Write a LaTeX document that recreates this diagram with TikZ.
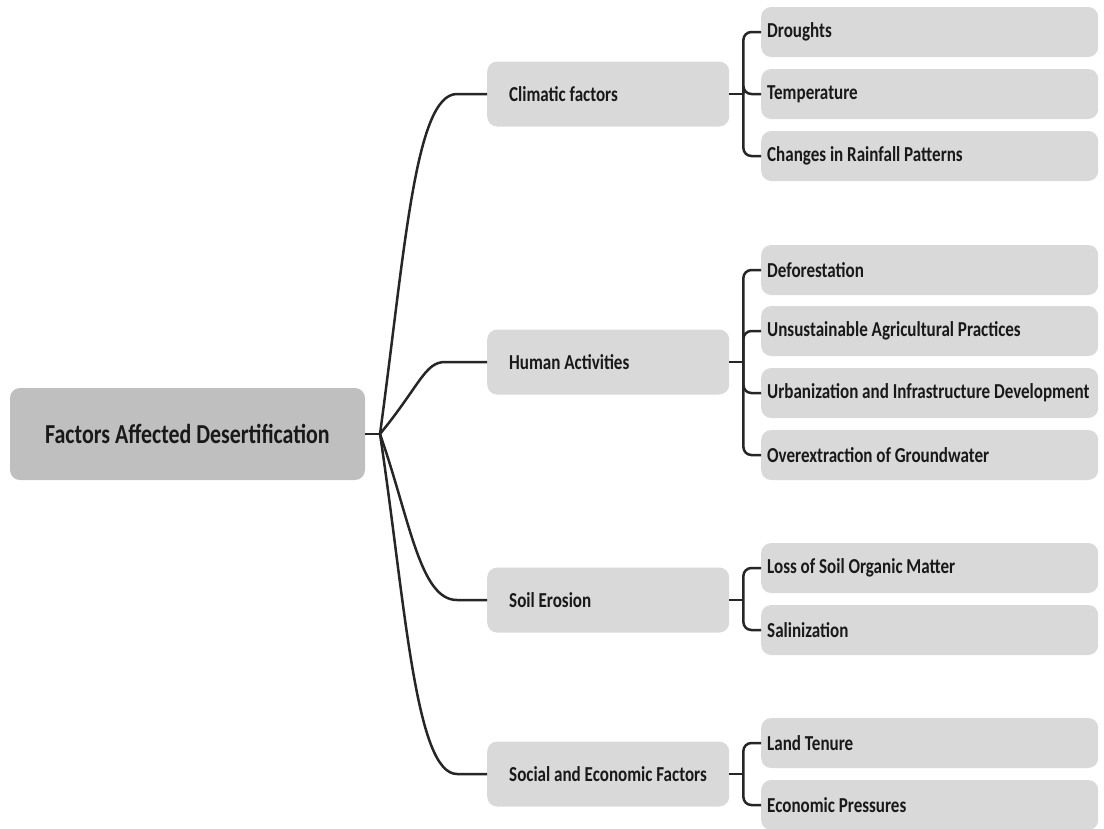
\documentclass[tikz,border=0pt]{standalone}
\usepackage{fontspec}
\setmainfont{Carlito}[FakeStretch=0.8]
\usetikzlibrary{positioning,calc}
\definecolor{rootgray}{RGB}{191,191,191}
\definecolor{boxgray}{RGB}{217,217,217}
\definecolor{linkgray}{RGB}{38,38,38}
\definecolor{inkgray}{RGB}{25,25,25}
\newcommand{\mapfont}[1]{\fontsize{#1}{1.2\dimexpr#1pt\relax}\selectfont\bfseries}
\tikzset{
  tightspace/.style={execute at begin node={\spaceskip=0.18em\relax\hyphenpenalty=10000\relax}},
  rootbox/.style={fill=rootgray, rounded corners=10pt, minimum width=355pt, minimum height=92pt,
    font=\mapfont{27.4}, text=inkgray, tightspace},
  topicbox/.style={fill=boxgray, rounded corners=10pt, anchor=west, minimum height=65pt,
    text width=198pt, inner xsep=22pt, align=left, font=\mapfont{21.3}, text=inkgray, tightspace},
  leafbox/.style={fill=boxgray, rounded corners=10pt, anchor=west, minimum height=50pt,
    text width=325pt, inner xsep=6pt, align=left, font=\mapfont{21.3}, text=inkgray, tightspace},
  link/.style={draw=linkgray, line width=2.5pt},
}
\begin{document}
\begin{tikzpicture}[x=1pt, y=-1pt]
  \useasboundingbox (0,0) rectangle (1104,828);
  % Root
  \node[rootbox] (root) at (187.5,434) {Factors Affected Desertification};
  % Main factors
  \node[topicbox] (clim) at (487,94) {Climatic factors};
  \node[topicbox] (human) at (487,362) {Human Activities};
  \node[topicbox] (soil) at (487,600) {Soil Erosion};
  \node[topicbox] (social) at (487,774) {Social and Economic Factors};
  % Sub factors
  \node[leafbox] (drought) at (761,32) {Droughts};
  \node[leafbox] (temp) at (761,94) {Temperature};
  \node[leafbox] (rain) at (761,156) {Changes in Rainfall Patterns};
  \node[leafbox] (forest) at (761,270) {Deforestation};
  \node[leafbox] (agri) at (761,331) {Unsustainable Agricultural Practices};
  \node[leafbox] (urban) at (761,393) {Urbanization and Infrastructure Development};
  \node[leafbox] (ground) at (761,455) {Overextraction of Groundwater};
  \node[leafbox] (organic) at (761,568) {Loss of Soil Organic Matter};
  \node[leafbox] (salt) at (761,630) {Salinization};
  \node[leafbox] (tenure) at (761,743) {Land Tenure};
  \node[leafbox] (econ) at (761,805) {Economic Pressures};
  % Root to main factors
  \coordinate (hub) at (380,434);
  \draw[link] (root.east) -- (hub);
  \draw[link] (hub) .. controls (405,250) and (415,94) .. (457,94) -- (clim.west);
  \draw[link] (hub) .. controls (420,385) and (425,362) .. (445,362) -- (human.west);
  \draw[link] (hub) .. controls (410,520) and (420,600) .. (457,600) -- (soil.west);
  \draw[link] (hub) .. controls (405,600) and (415,774) .. (457,774) -- (social.west);
  % Main factors to sub factors
  \coordinate[right=14pt of clim.east] (climbar);
  \coordinate[right=14pt of human.east] (humanbar);
  \coordinate[right=14pt of soil.east] (soilbar);
  \coordinate[right=14pt of social.east] (socialbar);
  \draw[link] (clim.east) -- (climbar);
  \draw[link] (human.east) -- (humanbar);
  \draw[link] (soil.east) -- (soilbar);
  \draw[link] (social.east) -- (socialbar);
  \foreach \leaf in {drought,temp,rain}
    \draw[link, rounded corners=8pt] (climbar) |- (\leaf.west);
  \foreach \leaf in {forest,agri,urban,ground}
    \draw[link, rounded corners=8pt] (humanbar) |- (\leaf.west);
  \foreach \leaf in {organic,salt}
    \draw[link, rounded corners=8pt] (soilbar) |- (\leaf.west);
  \foreach \leaf in {tenure,econ}
    \draw[link, rounded corners=8pt] (socialbar) |- (\leaf.west);
\end{tikzpicture}
\end{document}
